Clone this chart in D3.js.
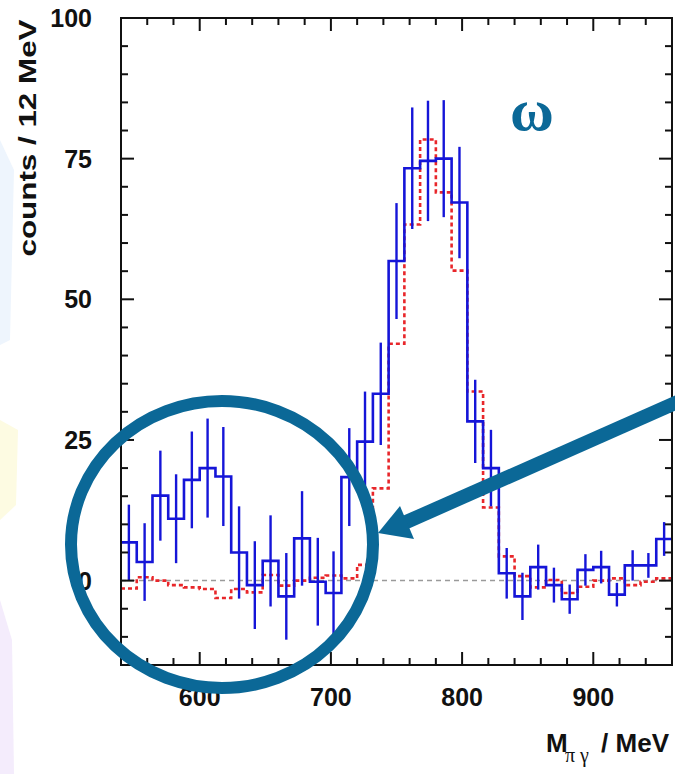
<!DOCTYPE html>
<html>
<head>
<meta charset="utf-8">
<script src="https://cdn.jsdelivr.net/npm/d3@7/dist/d3.min.js"></script>
<style>
  html, body { margin: 0; padding: 0; background: #fff; }
  svg { display: block; }
</style>
</head>
<body>
<svg id="chart" width="675" height="774"></svg>
<script>
// ---------------- data ----------------
const binStart = 540;     // MeV, lower edge of first bin
const binWidth = 12;      // MeV per bin
// measured (blue) histogram, counts per bin
const dataCounts = [6.8, 3.3, 15.1, 11.0, 17.9, 20.0, 18.5, 5.0, -0.8, 3.5,
                    -2.8, 7.5, -0.2, -2.2, 18.4, 24.7, 33.2, 56.8, 73.3, 74.6,
                    75.0, 67.2, 28.3, 20.0, 1.3, -2.8, 2.4, -0.8, -3.3, 1.9,
                    2.4, -2.5, 2.7, 2.7, 7.4];
// symmetric statistical errors of the measured histogram
const dataErrors = [6.7, 6.9, 8.0, 7.9, 8.6, 8.8, 8.8, 8.2, 7.8, 8.1,
                    7.7, 8.4, 7.8, 7.4, 8.7, 8.9, 9.1, 10.3, 10.8, 10.7,
                    10.4, 9.9, 7.4, 6.8, 4.5, 4.2, 4.0, 3.1, 2.6, 2.8,
                    2.9, 2.1, 2.7, 2.2, 3.0];
// simulation (red dotted) histogram
const simCounts = [-1.4, 0.6, 0.0, -0.8, -1.2, -1.5, -3.1, -1.5, -2.1, 1.0,
                   -0.9, 0.0, 0.5, 0.9, 0.4, 2.8, 16.4, 42.1, 63.3, 78.4,
                   69.0, 55.1, 33.6, 13.0, 4.3, 0.8, -1.2, 0.1, -2.2, -1.1,
                   0.0, 0.4, -0.8, -0.2, 0.4];
const xDomain = [540, 960];
const yDomain = [-15, 100];
const xMajorTicks = [600, 700, 800, 900];
const xTickLabels = ["600", "700", "800", "900"];
const yMajorTicks = [0, 25, 50, 75, 100];
const yTickLabels = ["0", "25", "50", "75", "100"];
const xMinorStep = 20;
const yMinorStep = 5;
const yTitle = "counts / 12 MeV";
const xTitleMain = "M";
const xTitleSub = "π γ";
const xTitleUnit = "/ MeV";
const particleLabel = "ω";

// ---------------- layout ----------------
const svg = d3.select("#chart");
const L = 121, R = 672, T = 18, B = 665;
const x = d3.scaleLinear().domain(xDomain).range([L, R]);
const y = d3.scaleLinear().domain(yDomain).range([B, T]);
const accent = "#0b6897";

// faint background decoration on the left edge
const deco = svg.append("g");
deco.append("path").attr("d", "M0,140 L14,170 L10,340 L0,345 Z").attr("fill", "#eef5fd");
deco.append("path").attr("d", "M0,420 L18,430 L16,505 L0,520 Z").attr("fill", "#fdfbe2");
deco.append("path").attr("d", "M0,600 L12,640 L14,774 L0,774 Z").attr("fill", "#f4ecfc");

const clipId = "plotclip";
svg.append("clipPath").attr("id", clipId).append("rect")
  .attr("x", L).attr("y", T).attr("width", R - L).attr("height", B - T);

const plot = svg.append("g").attr("clip-path", `url(#${clipId})`);

// zero line
plot.append("line")
  .attr("x1", x(xDomain[0])).attr("x2", x(xDomain[1]))
  .attr("y1", y(0)).attr("y2", y(0))
  .attr("stroke", "#9a9a9a").attr("stroke-width", 1.5)
  .attr("stroke-dasharray", "5,4");

function stepPoints(values) {
  const pts = [];
  values.forEach((v, i) => {
    const a = binStart + i * binWidth;
    pts.push([a, v], [a + binWidth, v]);
  });
  return pts;
}
const line = d3.line().x(d => x(d[0])).y(d => y(d[1]));

// simulation histogram (red dotted)
plot.append("path")
  .attr("d", line(stepPoints(simCounts)))
  .attr("fill", "none").attr("stroke", "#e8262a")
  .attr("stroke-width", 2.6).attr("stroke-dasharray", "4,3");

// measured histogram (blue)
plot.append("path")
  .attr("d", line(stepPoints(dataCounts)))
  .attr("fill", "none").attr("stroke", "#1515d8")
  .attr("stroke-width", 2.6);

// error bars
plot.selectAll("line.err").data(dataCounts).enter().append("line")
  .attr("class", "err")
  .attr("x1", (d, i) => x(binStart + (i + 0.5) * binWidth))
  .attr("x2", (d, i) => x(binStart + (i + 0.5) * binWidth))
  .attr("y1", (d, i) => y(d - dataErrors[i]))
  .attr("y2", (d, i) => y(d + dataErrors[i]))
  .attr("stroke", "#1515d8").attr("stroke-width", 2.4);

// frame
svg.append("rect").attr("x", L).attr("y", T).attr("width", R - L).attr("height", B - T)
  .attr("fill", "none").attr("stroke", "#111").attr("stroke-width", 2);

// ticks (inward, all four sides)
const ticks = svg.append("g").attr("stroke", "#111").attr("stroke-width", 2);
const xMinor = d3.range(xDomain[0] + xMinorStep, xDomain[1], xMinorStep);
xMinor.forEach(v => {
  const major = xMajorTicks.includes(v);
  const len = major ? 13 : 7;
  ticks.append("line").attr("x1", x(v)).attr("x2", x(v)).attr("y1", B).attr("y2", B - len);
  ticks.append("line").attr("x1", x(v)).attr("x2", x(v)).attr("y1", T).attr("y2", T + len);
});
const yMinor = d3.range(yDomain[0] + yMinorStep, yDomain[1], yMinorStep);
yMinor.forEach(v => {
  const major = yMajorTicks.includes(v);
  const len = major ? 13 : 7;
  ticks.append("line").attr("y1", y(v)).attr("y2", y(v)).attr("x1", L).attr("x2", L + len);
  ticks.append("line").attr("y1", y(v)).attr("y2", y(v)).attr("x1", R).attr("x2", R - len);
});

// tick labels
const labelFont = "'Liberation Sans', Arial, sans-serif";
svg.selectAll("text.xl").data(xMajorTicks).enter().append("text")
  .attr("class", "xl")
  .attr("x", d => x(d)).attr("y", 706)
  .attr("text-anchor", "middle")
  .attr("font-family", labelFont).attr("font-weight", "bold").attr("font-size", 25)
  .attr("fill", "#111")
  .text((d, i) => xTickLabels[i]);
svg.selectAll("text.yl").data(yMajorTicks).enter().append("text")
  .attr("class", "yl")
  .attr("x", 92).attr("y", d => y(d) + 9)
  .attr("text-anchor", "end")
  .attr("font-family", labelFont).attr("font-weight", "bold").attr("font-size", 25)
  .attr("fill", "#111")
  .text((d, i) => yTickLabels[i]);

// axis titles
svg.append("text")
  .attr("transform", "translate(36,138) rotate(-90)")
  .attr("text-anchor", "middle")
  .attr("font-family", labelFont).attr("font-weight", "bold").attr("font-size", 23)
  .attr("textLength", 237).attr("lengthAdjust", "spacingAndGlyphs")
  .attr("fill", "#111")
  .text(yTitle);

svg.append("text").attr("x", 546).attr("y", 752)
  .attr("font-family", labelFont).attr("font-weight", "bold").attr("font-size", 26)
  .attr("fill", "#111").text(xTitleMain);
svg.append("text").attr("x", 565).attr("y", 762)
  .attr("font-family", "'Liberation Serif', 'Times New Roman', serif").attr("font-size", 20)
  .attr("fill", "#111").text(xTitleSub);
svg.append("text").attr("x", 669).attr("y", 752).attr("text-anchor", "end")
  .attr("font-family", labelFont).attr("font-weight", "bold").attr("font-size", 26)
  .attr("fill", "#111").text(xTitleUnit);

// omega label
svg.append("text").attr("x", 532).attr("y", 130).attr("text-anchor", "middle")
  .attr("font-family", "'Liberation Serif', 'Times New Roman', serif")
  .attr("font-weight", "bold").attr("font-size", 60)
  .attr("fill", accent).text(particleLabel);

// highlight circle and arrow
svg.append("ellipse").attr("cx", 222).attr("cy", 544.5).attr("rx", 151).attr("ry", 143.5)
  .attr("fill", "none").attr("stroke", accent).attr("stroke-width", 12);
svg.append("line").attr("x1", 680).attr("y1", 401).attr("x2", 404).attr("y2", 523)
  .attr("stroke", accent).attr("stroke-width", 14);
svg.append("path").attr("d", "M378,533 L400,506 L414,539 Z").attr("fill", accent);
</script>
</body>
</html>
